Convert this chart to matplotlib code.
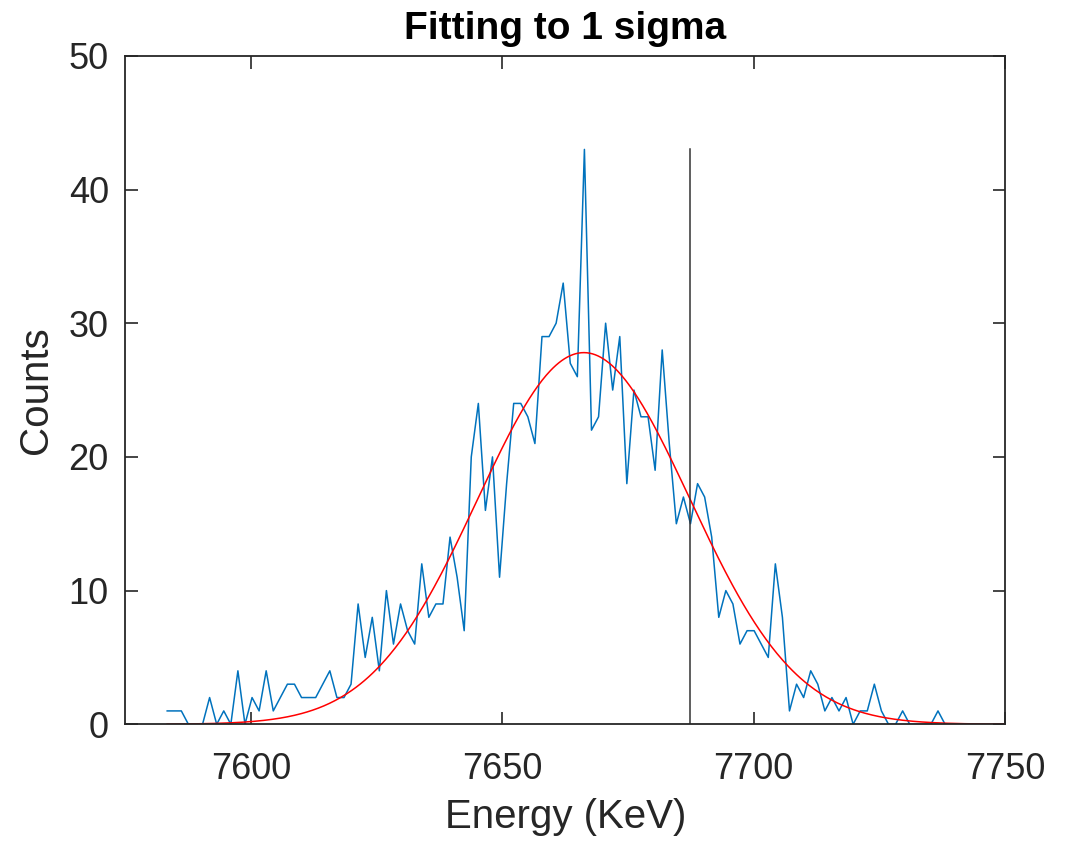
import numpy as np
import matplotlib
matplotlib.use("Agg")
import matplotlib.pyplot as plt

# Histogram of counts per energy bin
counts = [1, 1, 1, 0, 0, 0, 2, 0, 1, 0, 4, 0, 2, 1, 4, 1, 2, 3, 3, 2,
          2, 2, 3, 4, 2, 2, 3, 9, 5, 8, 4, 10, 6, 9, 7, 6, 12, 8, 9, 9,
          14, 11, 7, 20, 24, 16, 20, 11, 18, 24, 24, 23, 21, 29, 29, 30, 33, 27, 26, 43,
          22, 23, 30, 25, 29, 18, 25, 23, 23, 19, 28, 21, 15, 17, 15, 18, 17, 14, 8, 10,
          9, 6, 7, 7, 6, 5, 12, 8, 1, 3, 2, 4, 3, 1, 2, 1, 2, 0, 1, 1,
          3, 1, 0, 0, 1, 0, 0, 0, 0, 1, 0]
first_bin_kev = 7583.3
bin_width_kev = 1.407
energy = first_bin_kev + bin_width_kev * np.arange(len(counts))

# Gaussian fit parameters
fit_amplitude = 27.8
fit_mean = 7666.2
fit_sigma = 21.1

x_ticks = [7600, 7650, 7700, 7750]
y_ticks = [0, 10, 20, 30, 40, 50]

txt = "#262626"
plt.rcParams["font.family"] = ["Liberation Sans", "DejaVu Sans"]

fig = plt.figure(figsize=(10.66, 8.42), dpi=100)
ax = fig.add_axes([0.1177, 0.1398, 0.9428 - 0.1177, 0.9337 - 0.1398])

ax.plot(energy, counts, color="#0072BD", lw=1.1)

xfit = np.linspace(energy[0], 7750, 600)
yfit = fit_amplitude * np.exp(-(xfit - fit_mean) ** 2 / (2 * fit_sigma ** 2))
ax.plot(xfit, yfit, color="red", lw=1.1)

# one-sigma marker
ax.plot([fit_mean + fit_sigma] * 2, [0, max(counts)], color="#333333", lw=1.1)

ax.set_xlim(7575, 7750)
ax.set_ylim(0, 50)
ax.set_xticks(x_ticks)
ax.set_yticks(y_ticks)
ax.tick_params(direction="in", length=9, width=1.2, colors=txt,
               labelsize=26, top=True, right=True)
ax.tick_params(axis="x", pad=20)
ax.tick_params(axis="y", pad=12)
for s in ax.spines.values():
    s.set_color(txt)
    s.set_linewidth(1.3)

ax.set_xlabel("Energy (KeV)", fontsize=29, color=txt, labelpad=8)
ax.set_ylabel("Counts", fontsize=29, color=txt, labelpad=10)
ax.set_title("Fitting to 1 sigma", fontsize=28, fontweight="bold", color="black", pad=12)

fig.savefig("out.png", dpi=100)
